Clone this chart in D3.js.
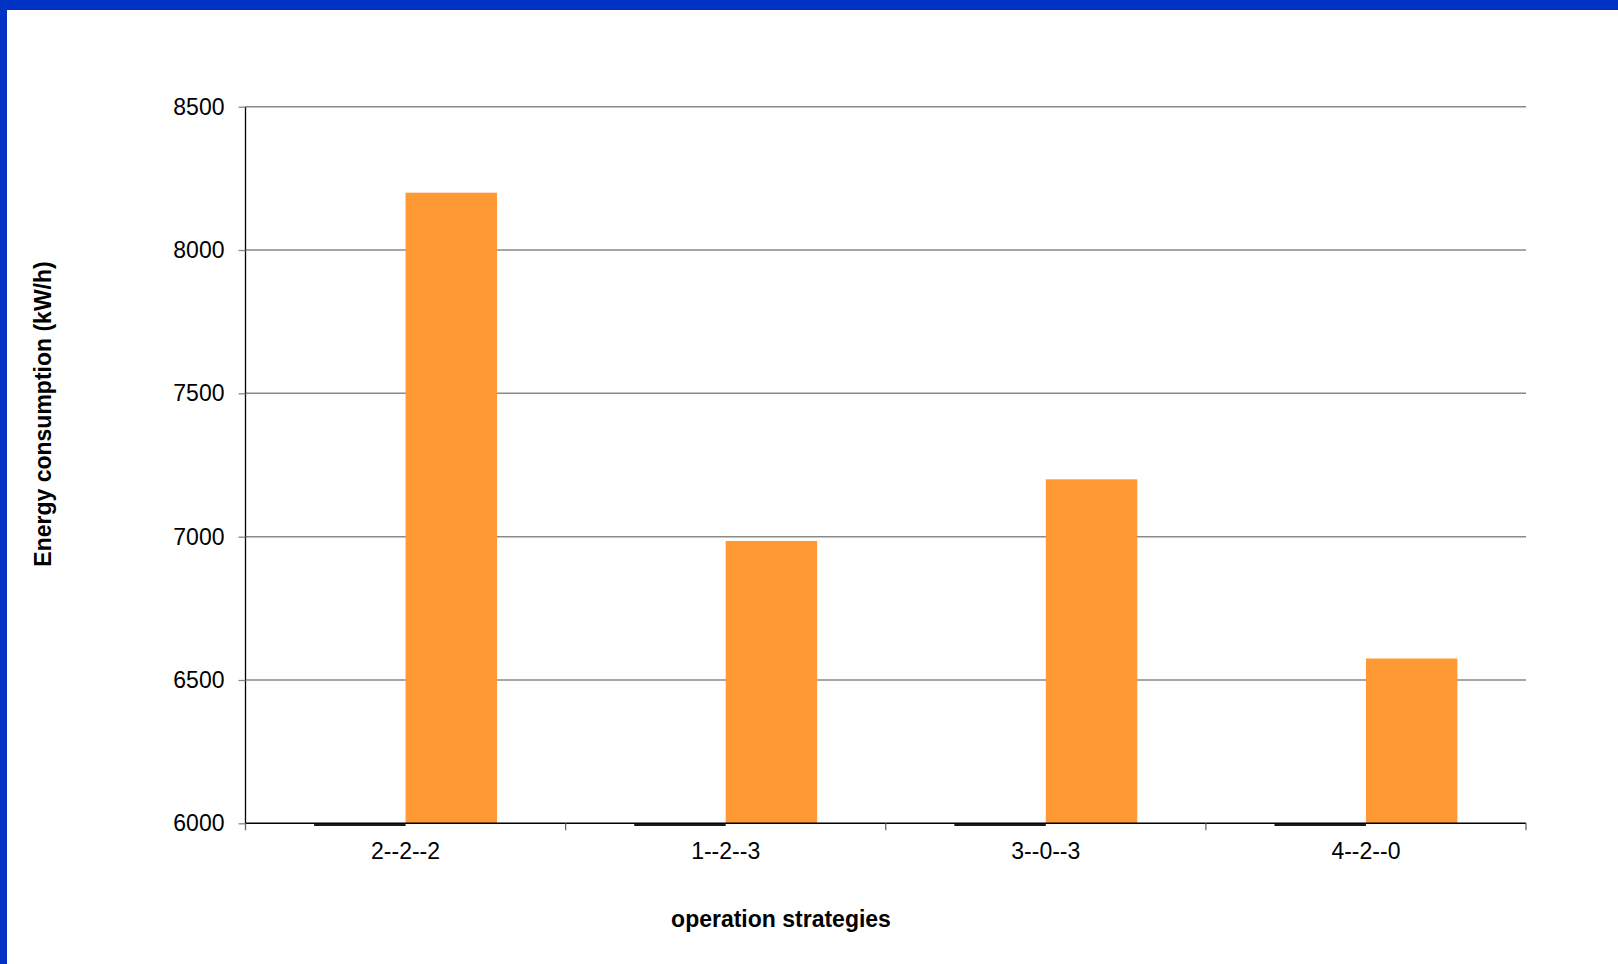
<!DOCTYPE html>
<html>
<head>
<meta charset="utf-8">
<script src="https://cdn.jsdelivr.net/npm/d3@7"></script>
<style>
  html, body { margin: 0; padding: 0; background: #ffffff; }
  svg { display: block; }
  text { font-family: "Liberation Sans", Arial, sans-serif; fill: #000; }
</style>
</head>
<body>
<svg id="chart" width="1618" height="964"></svg>
<script>
// Energy consumption per operation strategy
const categories = ["2--2--2", "1--2--3", "3--0--3", "4--2--0"];
const seriesNames = ["baseline", "consumption"];
const baselineValues = [6000, 6000, 6000, 6000];
const consumptionValues = [8200, 6985, 7200, 6575];
const yTicks = [6000, 6500, 7000, 7500, 8000, 8500];

const svg = d3.select("#chart");
const W = 1618, H = 964;

// Frame
svg.append("rect").attr("x", 0).attr("y", 0).attr("width", W).attr("height", H).attr("fill", "#fff");
svg.append("rect").attr("x", 0).attr("y", 0).attr("width", W).attr("height", 10).attr("fill", "#0032c3");
svg.append("rect").attr("x", 0).attr("y", 0).attr("width", 7).attr("height", H).attr("fill", "#0032c3");

const plot = { left: 245.5, right: 1526, top: 106.7, bottom: 823.3 };

const x = d3.scaleBand().domain(categories).range([plot.left, plot.right]).paddingInner(0).paddingOuter(0);
const xs = d3.scaleBand().domain(seriesNames).range([0, x.bandwidth()]).paddingInner(0).paddingOuter(0.75);
const y = d3.scaleLinear().domain([6000, 8500]).range([plot.bottom, plot.top]).clamp(true);

// Horizontal gridlines
svg.append("g").selectAll("line")
  .data(yTicks.filter(t => t > 6000))
  .join("line")
  .attr("x1", plot.left).attr("x2", plot.right)
  .attr("y1", d => y(d)).attr("y2", d => y(d))
  .attr("stroke", "#8a8a8a").attr("stroke-width", 1.5);

// Bars
const rows = categories.map((c, i) => ({ c, vals: [baselineValues[i], consumptionValues[i]] }));
const groups = svg.append("g").selectAll("g")
  .data(rows).join("g")
  .attr("transform", d => `translate(${x(d.c)},0)`);

groups.append("rect")
  .attr("x", xs("consumption"))
  .attr("width", xs.bandwidth())
  .attr("y", d => y(d.vals[1]))
  .attr("height", d => y(6000) - y(d.vals[1]))
  .attr("fill", "#ff9933");

// Baseline series sits on the axis minimum, so only its outline shows
groups.append("path")
  .attr("d", d => {
    const x0 = xs("baseline"), x1 = x0 + xs.bandwidth();
    const top = y(d.vals[0]), bot = y(6000);
    return `M${x0},${bot}V${top}H${x1}V${bot}Z`;
  })
  .attr("transform", "translate(0,1.3)")
  .attr("fill", "#333")
  .attr("stroke", "#1a1a1a").attr("stroke-width", 2.8)
  .attr("stroke-linecap", "square");

// Y axis
const yAxis = svg.append("g")
  .attr("transform", `translate(${plot.left},0)`)
  .call(d3.axisLeft(y).tickValues(yTicks).tickSize(7).tickPadding(14).tickFormat(d3.format("d")));
yAxis.select(".domain").attr("stroke", "#000").attr("stroke-width", 1.3).attr("d", `M0,${plot.top}V${plot.bottom}`);
yAxis.selectAll(".tick line").attr("stroke", "#888").attr("stroke-width", 1.3);
yAxis.selectAll(".tick text").attr("font-size", 23).attr("font-family", "Liberation Sans, Arial, sans-serif").attr("fill", "#000");

// X axis line and category boundary ticks
svg.append("line")
  .attr("x1", plot.left).attr("x2", plot.right)
  .attr("y1", plot.bottom).attr("y2", plot.bottom)
  .attr("stroke", "#000").attr("stroke-width", 1.5);
const bounds = categories.map(c => x(c)).concat([x.range()[1]]);
svg.append("g").selectAll("line")
  .data(bounds).join("line")
  .attr("x1", d => d).attr("x2", d => d)
  .attr("y1", plot.bottom).attr("y2", plot.bottom + 7)
  .attr("stroke", "#666").attr("stroke-width", 1.3);

// Category labels
svg.append("g").selectAll("text")
  .data(categories).join("text")
  .attr("x", d => x(d) + x.bandwidth() / 2)
  .attr("y", 859)
  .attr("text-anchor", "middle")
  .attr("font-size", 23)
  .text(d => d);

// Axis titles
svg.append("text")
  .attr("x", 781).attr("y", 927)
  .attr("text-anchor", "middle")
  .attr("font-size", 23).attr("font-weight", "bold")
  .text("operation strategies");

svg.append("text")
  .attr("transform", "translate(51,414) rotate(-90)")
  .attr("text-anchor", "middle")
  .attr("font-size", 23).attr("font-weight", "bold")
  .text("Energy consumption (kW/h)");
</script>
</body>
</html>
